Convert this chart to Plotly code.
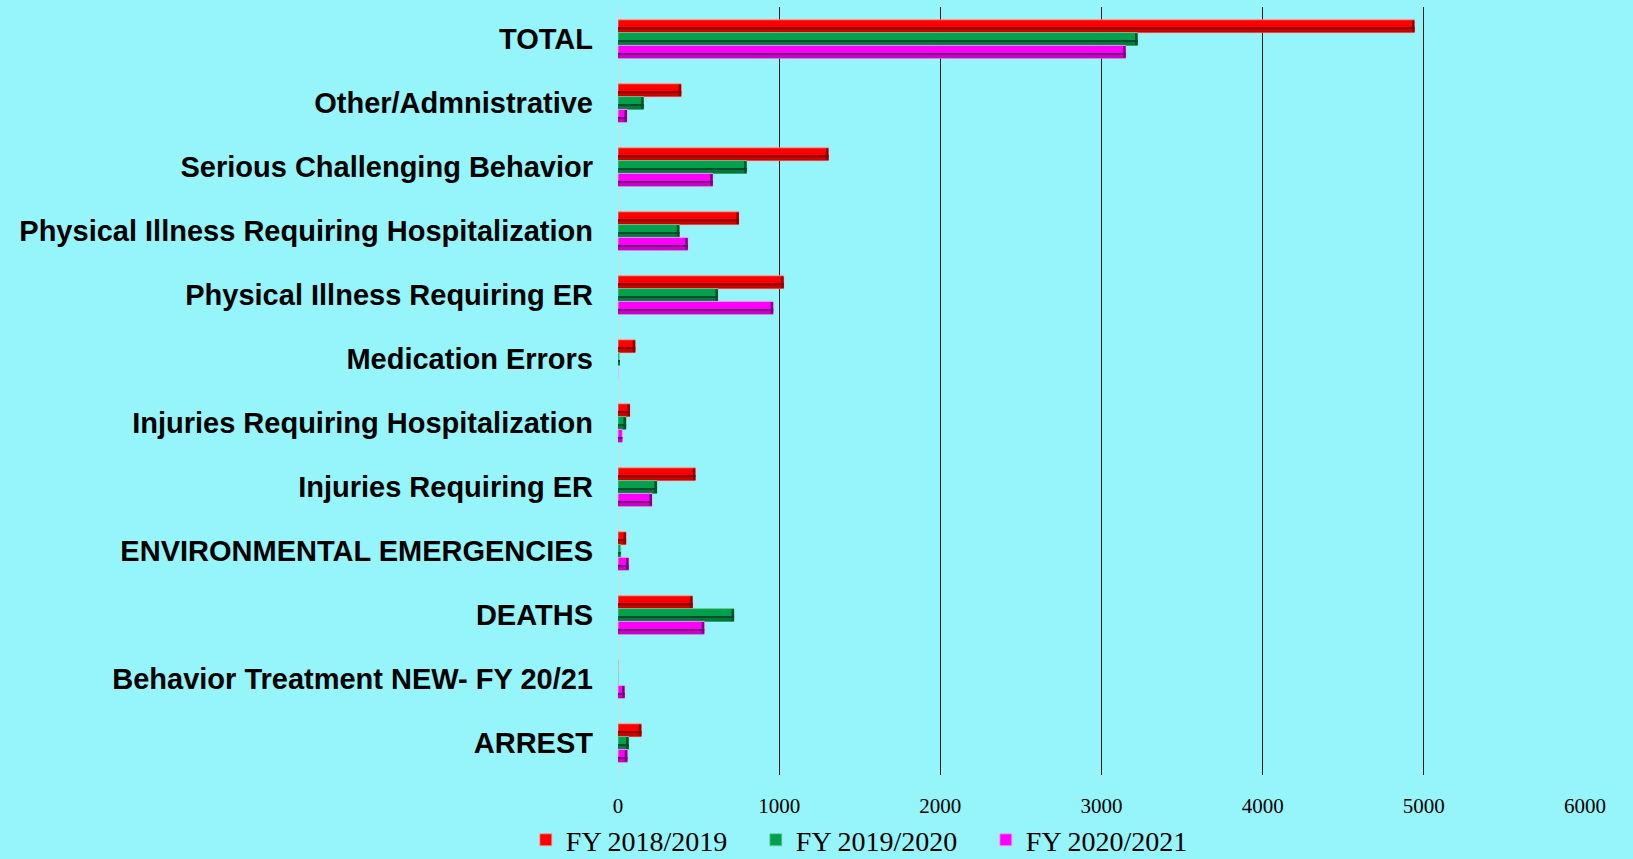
import plotly.graph_objects as go

categories = [
    "TOTAL",
    "Other/Admnistrative",
    "Serious Challenging Behavior",
    "Physical Illness Requiring Hospitalization",
    "Physical Illness Requiring ER",
    "Medication Errors",
    "Injuries Requiring Hospitalization",
    "Injuries Requiring ER",
    "ENVIRONMENTAL EMERGENCIES",
    "DEATHS",
    "Behavior Treatment NEW- FY 20/21",
    "ARREST",
]
fy_2018_2019 = [4942, 392, 1306, 750, 1028, 107, 74, 480, 50, 463, 0, 145]
fy_2019_2020 = [3224, 159, 798, 381, 620, 8, 50, 242, 17, 720, 0, 66]
fy_2020_2021 = [3150, 56, 588, 433, 963, 0, 27, 211, 66, 535, 41, 58]
series_names = ["FY 2018/2019", "FY 2019/2020", "FY 2020/2021"]
x_ticks = [0, 1000, 2000, 3000, 4000, 5000, 6000]

series_values = [fy_2018_2019, fy_2019_2020, fy_2020_2021]
bright = ["#ff0000", "#00a04c", "#ff00ff"]
medium = ["#d00000", "#007a3e", "#c800c8"]
dark = ["#900000", "#004d26", "#800080"]
halo = ["rgba(255,150,150,0.8)", "rgba(120,200,160,0.8)", "rgba(255,160,255,0.8)"]
offsets = [-0.3, -0.1, 0.1]
bar_w = 0.2
cap = 16  # end-cap bevel length in data units

fig = go.Figure()
for i, (name, vals) in enumerate(zip(series_names, series_values)):
    fig.add_trace(go.Bar(
        y=categories, x=vals, orientation="h", name=name,
        width=bar_w, offset=offsets[i],
        marker=dict(color=bright[i], line=dict(color=halo[i], width=1)),
        showlegend=True,
    ))
    fig.add_trace(go.Bar(
        y=categories, x=vals, orientation="h", name=name,
        width=bar_w * 0.42, offset=offsets[i] + bar_w * 0.58,
        marker=dict(color=medium[i], line=dict(width=0)),
        showlegend=False, hoverinfo="skip",
    ))
    fig.add_trace(go.Bar(
        y=categories, x=vals, orientation="h", name=name,
        width=bar_w * 0.13, offset=offsets[i] + bar_w * 0.6,
        marker=dict(color=dark[i], line=dict(width=0)),
        showlegend=False, hoverinfo="skip",
    ))
    cap_base = [v - cap if v > 2 * cap else v for v in vals]
    cap_len = [cap if v > 2 * cap else 0 for v in vals]
    fig.add_trace(go.Bar(
        y=categories, x=cap_len, base=cap_base, orientation="h", name=name,
        width=bar_w * 0.9, offset=offsets[i] + bar_w * 0.05,
        marker=dict(color=dark[i], line=dict(width=0)),
        showlegend=False, hoverinfo="skip",
    ))

fig.update_layout(
    barmode="overlay",
    width=1633, height=859,
    paper_bgcolor="#95f5fa", plot_bgcolor="#95f5fa",
    margin=dict(l=618, r=48, t=7, b=84, autoexpand=False),
    showlegend=True,
    legend=dict(
        orientation="h", xref="container", yref="container",
        x=0.322, y=0.022, xanchor="left", yanchor="middle",
        font=dict(family="Liberation Serif", size=28, color="#000000"),
        bgcolor="rgba(0,0,0,0)",
        entrywidth=185, entrywidthmode="pixels",
        itemwidth=30,
    ),
    xaxis=dict(
        range=[0, 6000], tickvals=x_ticks, ticktext=[str(v) for v in x_ticks],
        showgrid=True, gridcolor="#1a1a1a", gridwidth=1,
        zeroline=False, showline=False, ticks="",
        ticklabelstandoff=16, automargin=False,
        tickfont=dict(family="Liberation Serif", size=21, color="#000000"),
        fixedrange=True,
    ),
    yaxis=dict(
        categoryorder="array", categoryarray=categories,
        autorange="reversed", showgrid=False, zeroline=False,
        showline=False, ticks="", ticklabelstandoff=24, automargin=False,
        tickfont=dict(family="Liberation Sans", size=29, color="#000000", weight="bold"),
    ),
)
fig.add_vline(x=0, line=dict(color="#d8d8d8", width=2), layer="below")

fig.write_html(
    "out.html",
    config={"displayModeBar": False},
    post_script="document.body.style.margin='0';document.body.style.overflow='hidden';",
)
